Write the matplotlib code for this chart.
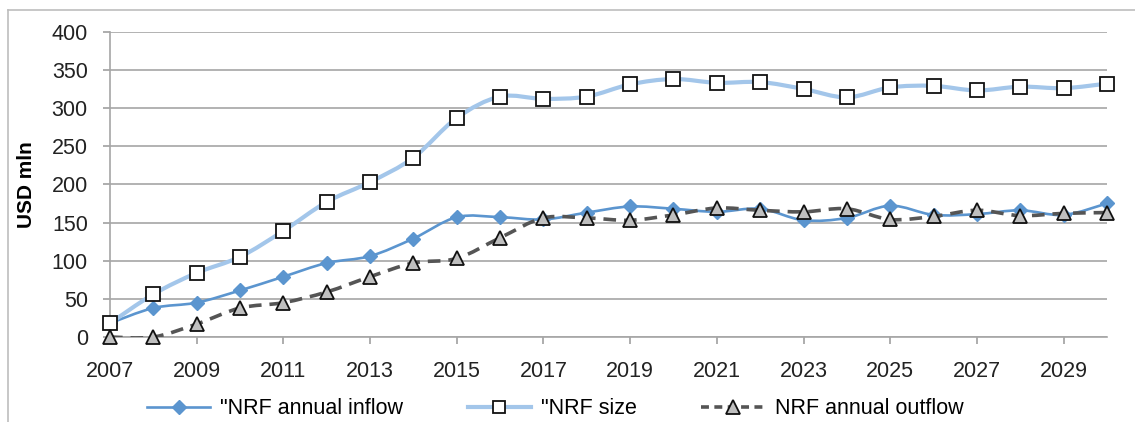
import numpy as np
import matplotlib
matplotlib.use("Agg")
import matplotlib.pyplot as plt
from matplotlib.path import Path
from matplotlib.patches import PathPatch
from matplotlib.lines import Line2D

plt.rcParams["font.family"] = ["Liberation Sans", "DejaVu Sans"]

# -----------------------------------
# Data (USD mln)
# -----------------------------------
years = list(range(2007, 2031))
inflow = [18, 38, 45, 61, 79, 97, 106, 129, 157, 157, 154, 163, 171, 168,
          164, 168, 153, 156, 172, 160, 161, 166, 160, 175]
size = [18, 56, 84, 105, 139, 177, 203, 235, 287, 315, 312, 315, 331, 338,
        333, 334, 325, 314, 327, 329, 323, 328, 326, 332]
outflow = [0, 0, 17, 38, 45, 59, 79, 97, 103, 130, 156, 156, 153, 160,
           169, 166, 164, 168, 154, 158, 166, 159, 162, 163]

series_labels = ['"NRF annual inflow', '"NRF size', 'NRF annual outflow']
year_ticks = list(range(2007, 2031, 2))
value_ticks = list(range(0, 401, 50))

FS = 15.5


def smooth_path(x, y):
    """Catmull-Rom style bezier path through the points (Excel 'smoothed line')."""
    x = np.asarray(x, float)
    y = np.asarray(y, float)
    pts = np.column_stack([x, y])
    verts = [pts[0]]
    codes = [Path.MOVETO]
    n = len(pts)
    for i in range(n - 1):
        p0 = pts[max(i - 1, 0)]
        p1 = pts[i]
        p2 = pts[i + 1]
        p3 = pts[min(i + 2, n - 1)]
        c1 = p1 + (p2 - p0) / 6.0
        c2 = p2 - (p3 - p1) / 6.0
        verts += [c1, c2, p2]
        codes += [Path.CURVE4] * 3
    return Path(verts, codes)


fig = plt.figure(figsize=(11.35, 4.22), dpi=100)
ax = fig.add_axes([0.0969, 0.2014, 0.8784, 0.7235])

# thin frame around the chart area (top and left edges)
fig.add_artist(Line2D([8 / 1135, 1.0], [1 - 10 / 422, 1 - 10 / 422],
                      color="#bdbdbd", lw=1.2, transform=fig.transFigure))
fig.add_artist(Line2D([8 / 1135, 8 / 1135], [0.0, 1 - 10 / 422],
                      color="#bdbdbd", lw=1.2, transform=fig.transFigure))

inflow_color = "#5b95cf"
size_color = "#a3c6ea"
outflow_color = "#555555"

# inflow
ax.add_patch(PathPatch(smooth_path(years, inflow), fill=False,
                       edgecolor=inflow_color, lw=1.9, zorder=3))
ax.plot(years, inflow, linestyle="none", marker="D", ms=7,
        color=inflow_color, mec=inflow_color, zorder=4, clip_on=False)

# size
ax.add_patch(PathPatch(smooth_path(years, size), fill=False,
                       edgecolor=size_color, lw=3.0, zorder=5))
ax.plot(years, size, linestyle="none", marker="s", ms=10, mfc="white",
        mec="#111111", mew=1.3, zorder=6, clip_on=False)

# outflow
ax.add_patch(PathPatch(smooth_path(years, outflow), fill=False,
                       edgecolor=outflow_color, lw=2.6, linestyle=(0, (3.5, 2.2)),
                       zorder=7))
ax.plot(years, outflow, linestyle="none", marker="^", ms=10.5, mfc="#bfbfbf",
        mec="#111111", mew=1.3, zorder=8, clip_on=False)

ax.set_xlim(2007, 2030)
ax.set_ylim(0, 400)
ax.set_xticks(year_ticks)
ax.set_yticks(value_ticks)
ax.tick_params(axis="y", length=5, width=1.2, color="#a0a0a0", pad=11,
               labelsize=FS, labelcolor="#222222")
ax.tick_params(axis="x", length=5, width=1.2, color="#a0a0a0", pad=12,
               labelsize=FS, labelcolor="#222222")

ax.grid(axis="y", color="#a6a6a6", lw=1.2)
ax.set_axisbelow(True)
for side in ["top", "right"]:
    ax.spines[side].set_visible(False)
ax.spines["left"].set_color("#a6a6a6")
ax.spines["left"].set_linewidth(1.2)
ax.spines["bottom"].set_color("#a6a6a6")
ax.spines["bottom"].set_linewidth(1.2)

ax.set_ylabel("USD mln", fontsize=15, fontweight="bold")
ax.yaxis.set_label_coords((36 - 110) / 997, 0.5)

handles = [
    Line2D([], [], color=inflow_color, lw=1.9, marker="D", ms=7),
    Line2D([], [], color=size_color, lw=3.0, marker="s", ms=9, mfc="white",
           mec="#111111", mew=1.3),
    Line2D([], [], color=outflow_color, lw=2.6, linestyle=(0, (2.2, 1.5)),
           marker="^", ms=9.5, mfc="#bfbfbf", mec="#111111", mew=1.3),
]
fig.legend(handles, series_labels, loc="center",
           bbox_to_anchor=(555 / 1135, 1 - 409 / 422),
           ncol=3, frameon=False, fontsize=FS, handlelength=2.95,
           columnspacing=3.0, handletextpad=0.45)

fig.savefig("out.png", dpi=100)
